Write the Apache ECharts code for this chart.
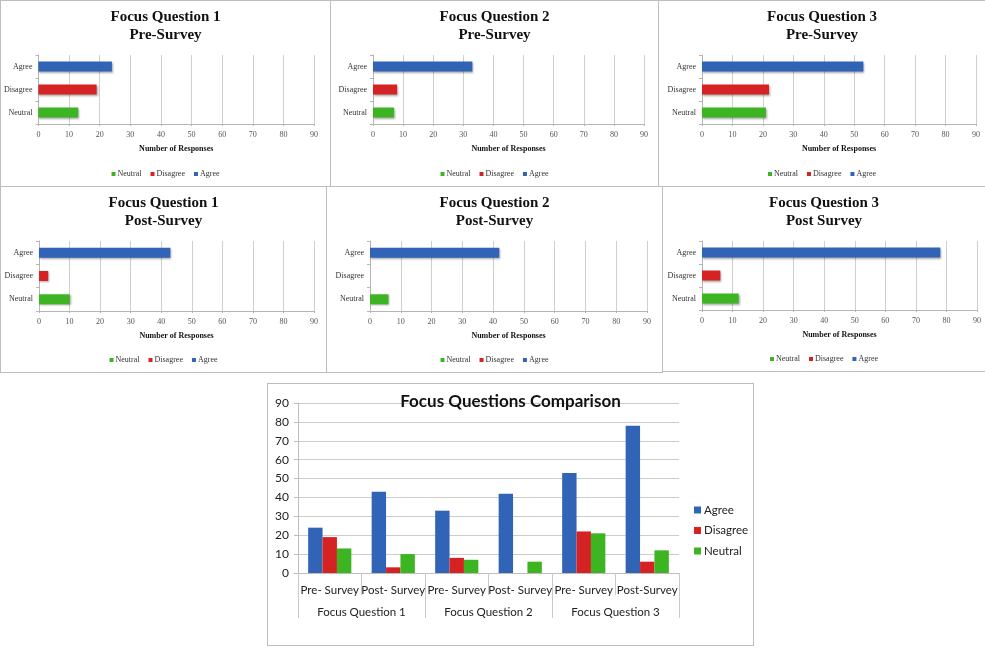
<!DOCTYPE html>
<html>
<head>
<meta charset="utf-8">
<script src="https://cdn.jsdelivr.net/npm/echarts@6/dist/echarts.min.js"></script>
<style>
  html, body { margin: 0; padding: 0; background: #fff; }
  body { width: 985px; height: 667px; position: relative; overflow: hidden; }
  .panel { position: absolute; box-sizing: border-box; border: 1px solid #bdbdbd; background: #fff; }
</style>
</head>
<body>
<script>
// ---------------- DATA ----------------
// order: FQ1 Pre, FQ1 Post, FQ2 Pre, FQ2 Post, FQ3 Pre, FQ3 Post
const agree    = [24, 43, 33, 42, 53, 78];
const disagree = [19,  3,  8,  0, 22,  6];
const neutral  = [13, 10,  7,  6, 21, 12];
const subLabels   = ['Pre- Survey', 'Post- Survey', 'Pre- Survey', 'Post- Survey', 'Pre- Survey', 'Post-Survey'];
const groupLabels = ['Focus Question 1', 'Focus Question 2', 'Focus Question 3'];
const smallCategories = ['Neutral', 'Disagree', 'Agree']; // bottom to top
const smallTitles = [
  'Focus Question 1\nPre-Survey', 'Focus Question 1\nPost-Survey',
  'Focus Question 2\nPre-Survey', 'Focus Question 2\nPost-Survey',
  'Focus Question 3\nPre-Survey', 'Focus Question 3\nPost Survey'
];
const comparisonTitle = 'Focus Questions Comparison';
const axisName = 'Number of Responses';
const valueMin = 0, valueMax = 90, valueStep = 10;

// ---------------- STYLE / LAYOUT ----------------
const colors = { Agree: '#3164b7', Disagree: '#d52222', Neutral: '#3db421' };
const serif = '"Liberation Serif", "Times New Roman", serif';
const sans = 'Lato, "Open Sans", sans-serif';

// panel boxes: [dataIndex, left, top, width, height, gridLeft, gridRight, gridTop, gridBottom]
const panels = [
  [0,   0,   0, 331, 187, 36, 16, 54, 62],
  [2, 330,   0, 329, 187, 42, 14, 54, 62],
  [4, 658,   0, 328, 187, 43,  9, 54, 62],
  [1,   0, 186, 327, 187, 38, 12, 54, 61],
  [3, 326, 186, 337, 187, 43, 15, 54, 61],
  [5, 662, 186, 324, 186, 39,  8, 54, 61]
];

function makeDiv(l, t, w, h) {
  const d = document.createElement('div');
  d.className = 'panel';
  d.style.left = l + 'px'; d.style.top = t + 'px';
  d.style.width = w + 'px'; d.style.height = h + 'px';
  document.body.appendChild(d);
  return d;
}

const barShadow = { shadowColor: 'rgba(0,0,0,0.35)', shadowBlur: 2, shadowOffsetX: 1, shadowOffsetY: 1 };

panels.forEach(p => {
  const [di, l, t, w, h, gl, gr, gt, gb] = p;
  const div = makeDiv(l, t, w, h);
  const chart = echarts.init(div, null, { renderer: 'canvas' });
  const values = { Neutral: neutral[di], Disagree: disagree[di], Agree: agree[di] };
  const series = smallCategories.map((name, idx) => ({
    name: name,
    type: 'bar',
    stack: 'one',
    barWidth: 10,
    itemStyle: Object.assign({ color: colors[name] }, barShadow),
    data: smallCategories.map((c, j) => j === idx ? values[name] : '-')
  }));
  chart.setOption({
    animation: false,
    title: {
      text: smallTitles[di],
      left: 'center',
      top: 7,
      padding: 0,
      textStyle: { fontFamily: serif, fontWeight: 'bold', fontSize: 15, lineHeight: 18, color: '#111' }
    },
    legend: {
      data: smallCategories,
      bottom: 3,
      left: 'center',
      itemWidth: 4, itemHeight: 4, itemGap: 9,
      icon: 'rect',
      textStyle: { fontFamily: serif, fontSize: 8, color: '#333', padding: [0, 0, 0, -3] }
    },
    grid: { left: gl, right: gr, top: gt, bottom: gb },
    xAxis: {
      type: 'value',
      min: valueMin, max: valueMax, interval: valueStep,
      name: axisName,
      nameLocation: 'middle',
      nameGap: 21,
      nameTextStyle: { fontFamily: serif, fontWeight: 'bold', fontSize: 8, color: '#111' },
      axisLine: { show: true, lineStyle: { color: '#b5b5b5', width: 1 } },
      axisTick: { show: true, length: 2, lineStyle: { color: '#b5b5b5' } },
      axisLabel: { fontFamily: serif, fontSize: 8, color: '#555', margin: 7 },
      splitLine: { show: true, lineStyle: { color: '#cfcfcf', width: 1 } }
    },
    yAxis: {
      type: 'category',
      data: smallCategories,
      axisLine: { show: true, lineStyle: { color: '#b5b5b5', width: 1 } },
      axisTick: { show: true, length: 3, lineStyle: { color: '#b5b5b5' } },
      axisLabel: { fontFamily: serif, fontSize: 8, color: '#333', margin: 6 }
    },
    series: series
  });
});

// ---------------- COMPARISON CHART ----------------
(function () {
  const div = makeDiv(267, 383, 487, 263);
  const chart = echarts.init(div, null, { renderer: 'canvas' });
  const seriesDefs = [['Agree', agree], ['Disagree', disagree], ['Neutral', neutral]];
  chart.setOption({
    animation: false,
    title: {
      text: comparisonTitle,
      left: 'center',
      top: 9,
      padding: 0,
      textStyle: { fontFamily: sans, fontWeight: 'bold', fontSize: 17, color: '#111' }
    },
    legend: {
      data: ['Agree', 'Disagree', 'Neutral'],
      orient: 'vertical',
      left: 426,
      top: 120,
      padding: 0,
      itemWidth: 7, itemHeight: 7, itemGap: 8.5,
      icon: 'rect',
      textStyle: { fontFamily: sans, fontSize: 11.5, color: '#222', padding: [0, 0, 0, -2] }
    },
    grid: { left: 30, right: 74, top: 19, bottom: 72 },
    xAxis: [
      {
        type: 'category',
        data: subLabels,
        position: 'bottom',
        axisLine: { show: true, lineStyle: { color: '#bdbdbd' } },
        axisTick: { show: true, length: 22, interval: 0, lineStyle: { color: '#c8c8c8' } },
        axisLabel: { fontFamily: sans, fontSize: 11.5, color: '#222', margin: 11, interval: 0 }
      },
      {
        type: 'category',
        data: groupLabels,
        position: 'bottom',
        offset: 22,
        axisLine: { show: false },
        axisTick: { show: true, length: 23, interval: 0, lineStyle: { color: '#c8c8c8' } },
        axisLabel: { fontFamily: sans, fontSize: 11.5, color: '#222', margin: 11, interval: 0 }
      }
    ],
    yAxis: {
      type: 'value',
      min: valueMin, max: valueMax, interval: valueStep,
      axisLine: { show: true, lineStyle: { color: '#bdbdbd' } },
      axisTick: { show: true, length: 4, lineStyle: { color: '#bdbdbd' } },
      axisLabel: { fontFamily: sans, fontSize: 12, color: '#222', margin: 9 },
      splitLine: { show: true, lineStyle: { color: '#cccccc' } }
    },
    series: seriesDefs.map(([name, vals]) => ({
      name: name,
      type: 'bar',
      xAxisIndex: 0,
      barGap: '0%',
      barCategoryGap: '32%',
      itemStyle: { color: colors[name] },
      data: vals
    }))
  });
})();
</script>
</body>
</html>
